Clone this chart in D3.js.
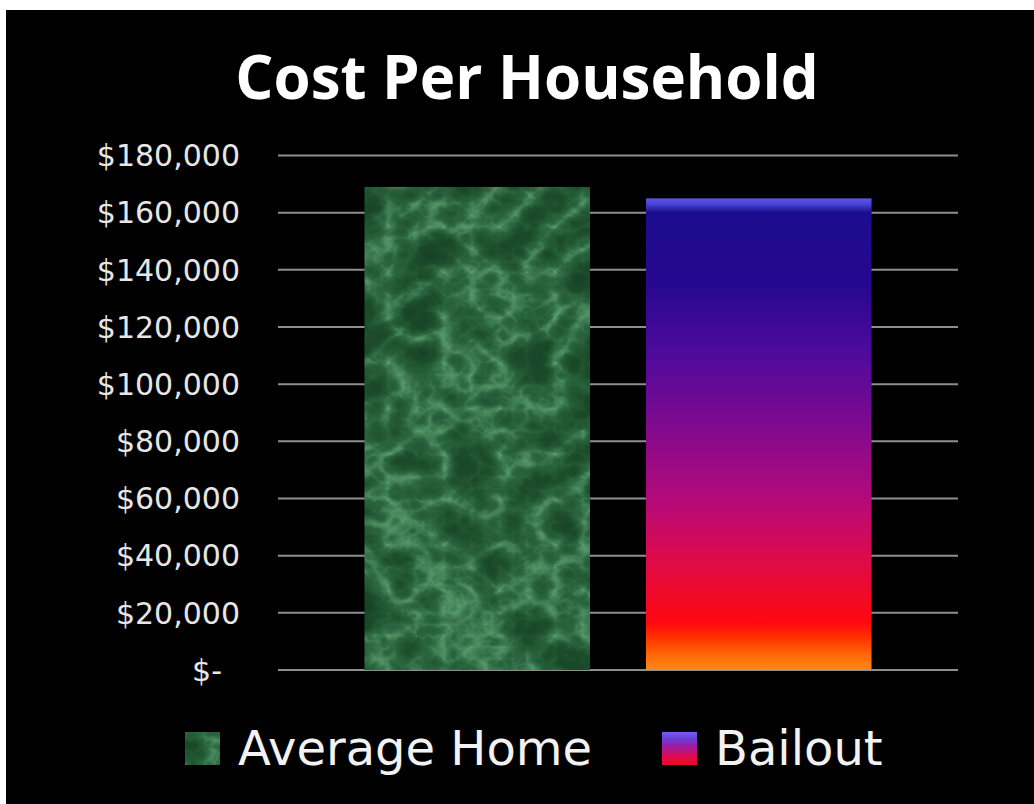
<!DOCTYPE html>
<html>
<head>
<meta charset="utf-8">
<script src="https://cdn.jsdelivr.net/npm/d3@7"></script>
<style>
    html, body { margin: 0; padding: 0; background: #fff; }
    svg { display: block; }
</style>
</head>
<body>
<div id="chart"></div>
<script>
var title = 'Cost Per Household';
var category = ['Cost Per Household'];
var series = ['Average Home', 'Bailout'];
var values = [169000, 165000];
var tickValues = [0, 20000, 40000, 60000, 80000, 100000, 120000, 140000, 160000, 180000];

var width = 1034, height = 804;

var svg = d3.select('#chart').append('svg')
    .attr('width', width)
    .attr('height', height);

var defs = svg.append('defs');

// marble look for the green bar
var marble = defs.append('filter').attr('id', 'marble')
    .attr('x', 0).attr('y', 0).attr('width', 1).attr('height', 1)
    .attr('color-interpolation-filters', 'sRGB');
marble.append('feTurbulence')
    .attr('type', 'turbulence')
    .attr('baseFrequency', '0.018 0.022')
    .attr('numOctaves', 4)
    .attr('seed', 7)
    .attr('result', 'noise');
marble.append('feColorMatrix')
    .attr('in', 'noise')
    .attr('type', 'matrix')
    .attr('values', '1 0 0 0 0  1 0 0 0 0  1 0 0 0 0  0 0 0 0 1')
    .attr('result', 'grey');
var ct = marble.append('feComponentTransfer').attr('in', 'grey').attr('result', 'tint');
ct.append('feFuncR').attr('type', 'table').attr('tableValues', '0.36 0.17 0.11 0.09 0.08');
ct.append('feFuncG').attr('type', 'table').attr('tableValues', '0.62 0.40 0.30 0.26 0.24');
ct.append('feFuncB').attr('type', 'table').attr('tableValues', '0.44 0.25 0.17 0.15 0.14');
marble.append('feComposite').attr('in', 'tint').attr('in2', 'SourceGraphic').attr('operator', 'in');

var bailStops = [
    [0, '#5a56e6'], [0.012, '#4b44d8'], [0.03, '#1c0c8e'], [0.18, '#26088f'],
    [0.34, '#520a9c'], [0.5, '#860a8c'], [0.64, '#b40a7a'], [0.74, '#d60a55'],
    [0.84, '#f00a28'], [0.9, '#ff0810'], [0.93, '#ff3000'], [0.97, '#ff6a08'], [1, '#ff8a18']
];
var bg = defs.append('linearGradient').attr('id', 'bailout')
    .attr('x1', 0).attr('y1', 0).attr('x2', 0).attr('y2', 1);
bailStops.forEach(function(s) {
    bg.append('stop').attr('offset', s[0]).attr('stop-color', s[1]);
});

var sw = defs.append('linearGradient').attr('id', 'bailoutKey')
    .attr('x1', 0).attr('y1', 0).attr('x2', 0).attr('y2', 1);
[[0, '#7a5cf0'], [0.2, '#6a3ed8'], [0.45, '#a01aa0'], [0.75, '#e00a50'], [1, '#f00a20']].forEach(function(s) {
    sw.append('stop').attr('offset', s[0]).attr('stop-color', s[1]);
});

var fills = ['#2d6a3c', 'url(#bailout)'];
var keyFills = ['#2d6a3c', 'url(#bailoutKey)'];

// black slide
svg.append('rect')
    .attr('x', 6).attr('y', 10)
    .attr('width', width - 6).attr('height', height - 10)
    .attr('fill', '#000');

var y = d3.scaleLinear().domain([0, 180000]).range([670, 155.5]);
var x0 = d3.scaleBand().domain(category).range([278, 958]).padding(0.1457);
var x1 = d3.scaleBand().domain(series).range([0, x0.bandwidth()]).paddingInner(0.199);

// grid
svg.append('g').selectAll('line')
    .data(tickValues)
    .enter().append('line')
    .attr('x1', 278).attr('x2', 958)
    .attr('y1', function(d) { return y(d); })
    .attr('y2', function(d) { return y(d); })
    .attr('stroke', '#8e8e8e')
    .attr('stroke-width', 2);

// y labels
var fmt = d3.format(',');
svg.append('g').selectAll('text')
    .data(tickValues)
    .enter().append('text')
    .attr('x', function(d) { return d == 0 ? 222 : 240; })
    .attr('y', function(d) { return y(d); })
    .attr('dy', '0.36em')
    .attr('text-anchor', 'end')
    .attr('fill', '#e6e6e6')
    .style('font-family', 'DejaVu Sans')
    .style('font-size', '30px')
    .text(function(d) { return d == 0 ? '$-' : '$' + fmt(d); });

// bars
svg.append('g').selectAll('rect')
    .data(values)
    .enter().append('rect')
    .attr('x', function(d, i) { return x0(category[0]) + x1(series[i]); })
    .attr('y', function(d) { return y(d); })
    .attr('width', x1.bandwidth())
    .attr('height', function(d) { return y(0) - y(d); })
    .attr('fill', function(d, i) { return fills[i]; })
    .attr('filter', function(d, i) { return i == 0 ? 'url(#marble)' : null; });

// title
svg.append('text')
    .attr('x', 527).attr('y', 99)
    .attr('text-anchor', 'middle')
    .attr('fill', '#fff')
    .style('font-family', 'Open Sans')
    .style('font-weight', 'bold')
    .style('font-size', '60px')
    .text(title);

// legend
var keyX = [185, 662];
var legend = svg.append('g').selectAll('g')
    .data(series)
    .enter().append('g')
    .attr('transform', function(d, i) { return 'translate(' + keyX[i] + ',0)'; });

legend.append('rect')
    .attr('x', 0).attr('y', 732)
    .attr('width', 35).attr('height', 33)
    .attr('fill', function(d, i) { return keyFills[i]; })
    .attr('filter', function(d, i) { return i == 0 ? 'url(#marble)' : null; });

legend.append('text')
    .attr('x', 53).attr('y', 765)
    .attr('fill', '#f2f2f2')
    .style('font-family', 'DejaVu Sans')
    .style('font-size', '48px')
    .text(function(d) { return d; });
</script>
</body>
</html>
